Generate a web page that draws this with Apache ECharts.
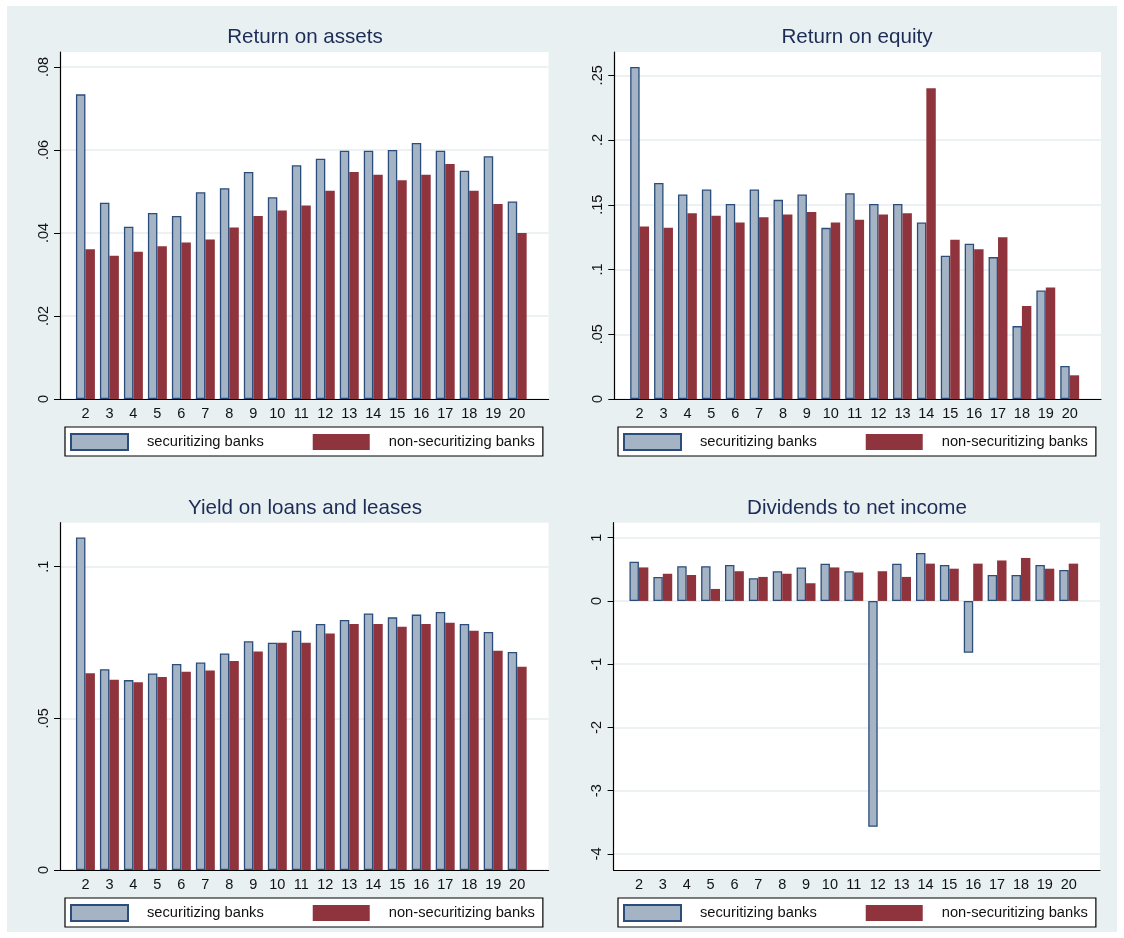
<!DOCTYPE html>
<html>
<head>
<meta charset="utf-8">
<script src="https://cdn.jsdelivr.net/npm/echarts@6/dist/echarts.min.js"></script>
<style>
  html, body { margin: 0; padding: 0; background: #ffffff; }
  #frame { position: absolute; left: 7px; top: 6px; width: 1110px; height: 926px; background: #e8f0f2; }
  #chart { position: absolute; left: 0; top: 0; width: 1124px; height: 938px; }
</style>
</head>
<body>
<div id="frame"></div>
<div id="chart"></div>
<script>
// Bank size groups on the horizontal axis
const categories = [2, 3, 4, 5, 6, 7, 8, 9, 10, 11, 12, 13, 14, 15, 16, 17, 18, 19, 20];

const seriesNames = ['securitizing banks', 'non-securitizing banks'];
const panelTitles = ['Return on assets', 'Return on equity', 'Yield on loans and leases', 'Dividends to net income'];

// Return on assets
const roaSec = [0.0734, 0.0473, 0.0415, 0.0448, 0.0441, 0.0498, 0.0508, 0.0547, 0.0486, 0.0563, 0.0579, 0.0598, 0.0598, 0.0600, 0.0617, 0.0598, 0.0550, 0.0585, 0.0476];
const roaNon = [0.0361, 0.0345, 0.0355, 0.0368, 0.0377, 0.0384, 0.0413, 0.0441, 0.0454, 0.0466, 0.0502, 0.0547, 0.0540, 0.0527, 0.0540, 0.0566, 0.0502, 0.0470, 0.0400];

// Return on equity
const roeSec = [0.2564, 0.1669, 0.1579, 0.1618, 0.1507, 0.1618, 0.1538, 0.1579, 0.1322, 0.1590, 0.1507, 0.1507, 0.1363, 0.1106, 0.1199, 0.1096, 0.0563, 0.0838, 0.0255];
const roeNon = [0.1332, 0.1322, 0.1435, 0.1415, 0.1363, 0.1404, 0.1425, 0.1445, 0.1363, 0.1384, 0.1425, 0.1435, 0.2400, 0.1229, 0.1157, 0.1250, 0.0718, 0.0862, 0.0183];

// Yield on loans and leases
const yieldSec = [0.1096, 0.0662, 0.0626, 0.0648, 0.0679, 0.0684, 0.0714, 0.0754, 0.0749, 0.0789, 0.0811, 0.0824, 0.0846, 0.0833, 0.0842, 0.0851, 0.0811, 0.0785, 0.0719];
const yieldNon = [0.0649, 0.0627, 0.0619, 0.0636, 0.0654, 0.0658, 0.0689, 0.0720, 0.0749, 0.0749, 0.0780, 0.0811, 0.0811, 0.0802, 0.0811, 0.0815, 0.0789, 0.0723, 0.0670];

// Dividends to net income
const divSec = [0.62, 0.38, 0.55, 0.55, 0.57, 0.36, 0.47, 0.53, 0.59, 0.47, -3.57, 0.59, 0.76, 0.57, -0.82, 0.41, 0.41, 0.57, 0.49];
const divNon = [0.53, 0.43, 0.41, 0.19, 0.47, 0.38, 0.43, 0.28, 0.53, 0.45, 0.47, 0.38, 0.59, 0.51, 0.59, 0.64, 0.68, 0.51, 0.59];

// Vertical axis ticks of each panel
const roaTicks = [0, 0.02, 0.04, 0.06, 0.08];
const roeTicks = [0, 0.05, 0.1, 0.15, 0.2, 0.25];
const yieldTicks = [0, 0.05, 0.1];
const divTicks = [-4, -3, -2, -1, 0, 1];

const FONT = "'Liberation Sans', Arial, Helvetica, sans-serif";
const SEC_FILL = '#a4b4c5';
const SEC_EDGE = '#2a4d7c';
const NON_FILL = '#8f343c';

// Panel frames: plot area, vertical range, legend and title anchors
const panels = [
  { grid: { left: 60, top: 52, width: 488.6, height: 347 }, yMin: 0, yMax: 0.0836, ticks: roaTicks, sec: roaSec, non: roaNon, legend: { left: 65, top: 427 }, title: { left: 305, top: 27 } },
  { grid: { left: 614.3, top: 52, width: 486.7, height: 347 }, yMin: 0, yMax: 0.268, ticks: roeTicks, sec: roeSec, non: roeNon, legend: { left: 618, top: 427 }, title: { left: 857, top: 27 } },
  { grid: { left: 60, top: 522.7, width: 488.6, height: 347.3 }, yMin: 0, yMax: 0.1145, ticks: yieldTicks, sec: yieldSec, non: yieldNon, legend: { left: 65, top: 898 }, title: { left: 305, top: 498 } },
  { grid: { left: 613.6, top: 522.7, width: 486.4, height: 347.3 }, yMin: -4.253, yMax: 1.237, ticks: divTicks, sec: divSec, non: divNon, legend: { left: 618, top: 898 }, title: { left: 857, top: 498 } }
];

// Stata-style numbers: drop the leading zero (".05", "-.5")
function tickText(v) {
  let s = String(+Number(v).toFixed(4));
  return s.replace(/^0\./, '.').replace(/^-0\./, '-.');
}

const grids = [], xAxes = [], yAxes = [], series = [], legends = [], titles = [];

panels.forEach((p, i) => {
  grids.push(Object.assign({ show: true, backgroundColor: '#ffffff', borderWidth: 0, containLabel: false }, p.grid));

  titles.push({
    text: panelTitles[i],
    left: p.title.left, top: p.title.top, textAlign: 'center', padding: 0,
    textStyle: { fontFamily: FONT, fontSize: 20.6, fontWeight: 'normal', color: '#1c2c56' }
  });

  xAxes.push({
    type: 'value', gridIndex: i, min: 0.94, max: 21.31,
    axisLine: { show: true, onZero: false, lineStyle: { color: '#000', width: 1.2 } },
    axisTick: { show: false },
    splitLine: { show: false },
    axisLabel: { customValues: categories, formatter: v => String(v), fontFamily: FONT, fontSize: 14.5, color: '#111', margin: 7 }
  });

  yAxes.push({
    type: 'value', gridIndex: i, min: p.yMin, max: p.yMax,
    axisLine: { show: true, onZero: false, lineStyle: { color: '#000', width: 1.2 } },
    axisTick: { show: true, length: 6, customValues: p.ticks, lineStyle: { color: '#000', width: 1 } },
    axisLabel: { customValues: p.ticks, formatter: tickText, rotate: 90, fontFamily: FONT, fontSize: 14.5, color: '#111', margin: 9 },
    splitLine: { show: true, lineStyle: { color: '#e6eef1', width: 1.5 } }
  });

  series.push({
    name: seriesNames[0], type: 'bar', xAxisIndex: i, yAxisIndex: i,
    barGap: '0%', barCategoryGap: '21%',
    itemStyle: { color: SEC_FILL, borderColor: SEC_EDGE, borderWidth: 1.3 },
    data: categories.map((c, k) => [c, p.sec[k]]),
    silent: true
  });
  series.push({
    name: seriesNames[1], type: 'bar', xAxisIndex: i, yAxisIndex: i,
    barGap: '0%', barCategoryGap: '21%',
    itemStyle: { color: NON_FILL, borderWidth: 0 },
    data: categories.map((c, k) => [c, p.non[k]]),
    silent: true
  });

  legends.push({
    data: seriesNames, left: p.legend.left, top: p.legend.top, orient: 'horizontal',
    icon: 'rect', itemWidth: 57, itemHeight: 16, itemGap: 49,
    selectedMode: false,
    backgroundColor: '#ffffff', borderColor: '#000', borderWidth: 1.2, borderRadius: 0,
    padding: [6, 8, 5, 5],
    textStyle: { fontFamily: FONT, fontSize: 14.7, color: '#111', padding: [0, 0, 0, 14] }
  });
});

const chart = echarts.init(document.getElementById('chart'), null, { renderer: 'canvas' });
chart.setOption({
  animation: false,
  backgroundColor: 'transparent',
  title: titles,
  grid: grids,
  xAxis: xAxes,
  yAxis: yAxes,
  legend: legends,
  series: series
});
</script>
</body>
</html>
